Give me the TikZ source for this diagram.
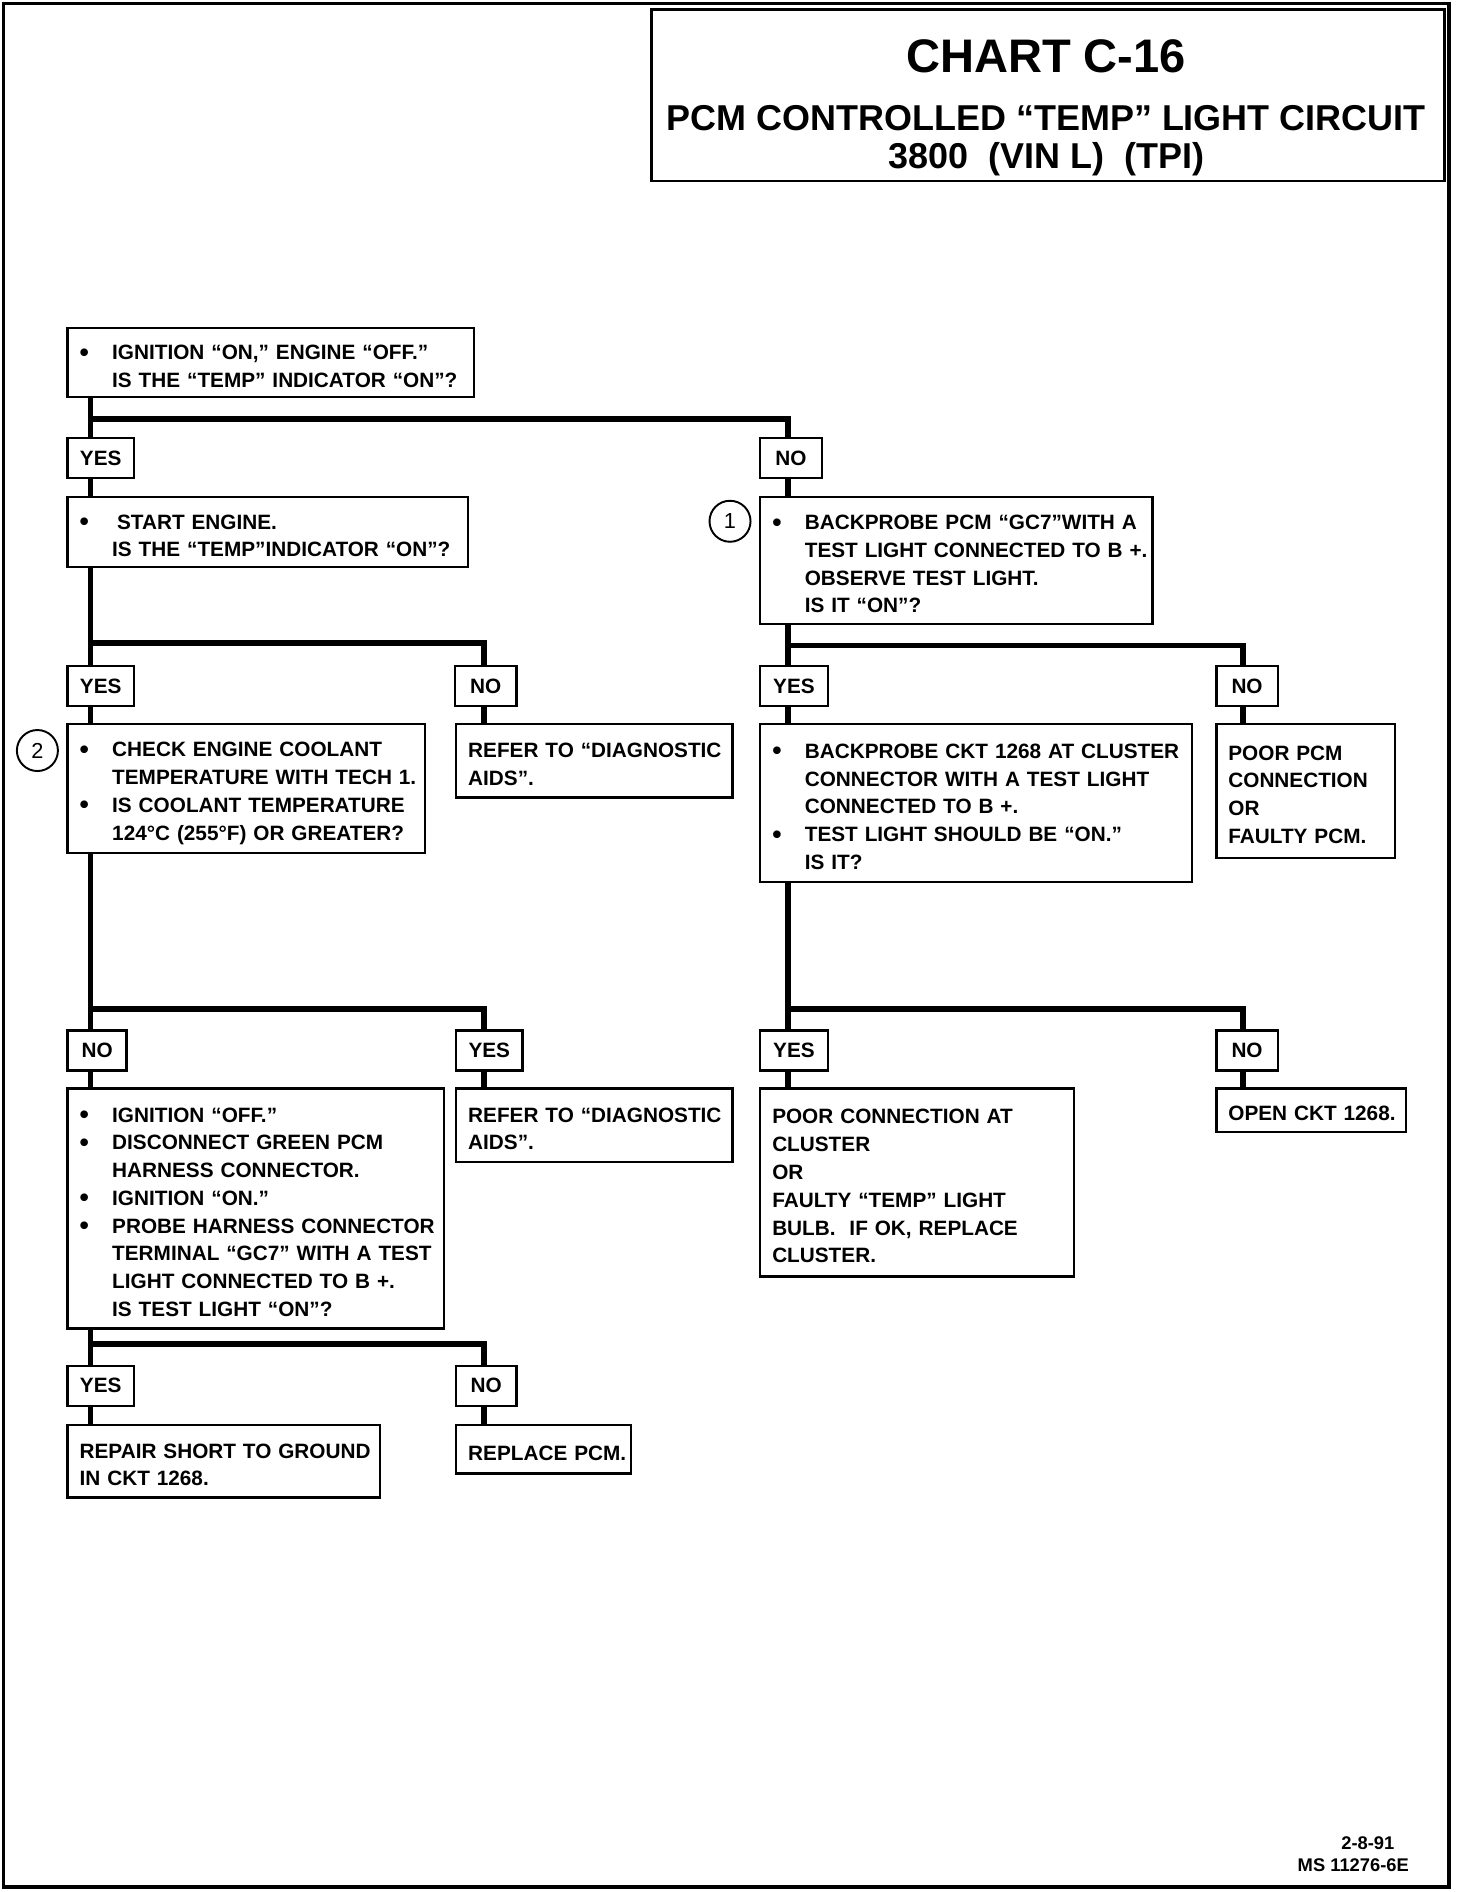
\documentclass[tikz,border=0pt]{standalone}
\usepackage{fontspec}
\setmainfont{Liberation Sans}
\newcommand\bulmark{\raisebox{-0.6pt}{\fontsize{11}{11}\selectfont\textbullet}}
\newcommand\bl[1]{\mbox{\makebox[13.5pt][l]{\bulmark}#1}}
\newcommand\il[1]{\mbox{\hspace*{13.5pt}#1}}
\newcommand\pl[1]{\mbox{#1}}
\begin{document}
\begin{tikzpicture}[x=0.5pt,y=-0.5pt,
  txt/.style={font=\bfseries\fontsize{8.6}{11.5}\selectfont},
  box/.style={txt,draw,line width=1pt,inner xsep=5pt,inner ysep=0pt,anchor=north west,align=left,
    execute at begin node={\rule{0pt}{10pt}},execute at end node={\rule[-1pt]{0pt}{1pt}}},
  lab/.style={txt,draw,line width=1pt,inner sep=0pt,minimum height=16.5pt,anchor=north west},
  conn/.style={line width=2.4pt},
  circ/.style={circle,draw,line width=0.8pt,minimum size=17pt,inner sep=0pt,font=\fontsize{9}{9}\selectfont}]
\useasboundingbox (0,0) rectangle (1207,1568);
% frame and title
\draw[line width=1.5pt] (3,3) rectangle (1201,1564);
\node[draw,line width=1pt,minimum width=328.5pt,minimum height=71pt,anchor=north west,inner sep=0pt] (title) at (539,7) {};
\node[anchor=base,font=\bfseries\fontsize{19.5}{20}\selectfont,inner sep=0pt] (t1) at (867,60) {CHART C-16};
\node[anchor=base,font=\bfseries\fontsize{14.9}{16}\selectfont,inner sep=0pt] (t2) at (867,108) {PCM CONTROLLED “TEMP” LIGHT CIRCUIT};
\node[anchor=base,font=\bfseries\fontsize{14.9}{16}\selectfont,inner sep=0pt] (t3) at (867,140) {3800\ \ (VIN L)\ \ (TPI)};
% column x positions
\coordinate (xA) at (75,0);
\coordinate (xB) at (401,0);
\coordinate (xC) at (653,0);
\coordinate (xD) at (1030,0);
% boxes
\node[box,minimum width=168.5pt,minimum height=28.5pt,text width=158.5pt] (b1) at (55,271)
  {\bl{IGNITION “ON,” ENGINE “OFF.”}\\\il{IS THE “TEMP” INDICATOR “ON”?}};
\node[box,minimum width=166pt,minimum height=29pt,text width=156pt] (b2) at (55,411)
  {\bl{\hspace*{2pt}START ENGINE.}\\\il{IS THE “TEMP”INDICATOR “ON”?}};
\node[box,minimum width=148pt,minimum height=53.5pt,text width=138pt] (b3) at (55,599)
  {\bl{CHECK ENGINE COOLANT}\\\il{TEMPERATURE WITH TECH 1.}\\\bl{IS COOLANT TEMPERATURE}\\\il{124°C (255°F) OR GREATER?}};
\node[box,minimum width=114.5pt,minimum height=30.5pt,text width=104.5pt] (b4) at (377,599)
  {\pl{REFER TO “DIAGNOSTIC}\\\pl{AIDS”.}};
\node[box,minimum width=156pt,minimum height=99.5pt,text width=146pt] (b5) at (55,901)
  {\bl{IGNITION “OFF.”}\\\bl{DISCONNECT GREEN PCM}\\\il{HARNESS CONNECTOR.}\\\bl{IGNITION “ON.”}\\\bl{PROBE HARNESS CONNECTOR}\\\il{TERMINAL “GC7” WITH A TEST}\\\il{LIGHT CONNECTED TO B +.}\\\il{IS TEST LIGHT “ON”?}};
\node[box,minimum width=114.5pt,minimum height=30.5pt,text width=104.5pt] (b6) at (377,901)
  {\pl{REFER TO “DIAGNOSTIC}\\\pl{AIDS”.}};
\node[box,minimum width=129.5pt,minimum height=30pt,text width=119.5pt] (b7) at (55,1180)
  {\pl{REPAIR SHORT TO GROUND}\\\pl{IN CKT 1268.}};
\node[box,minimum width=72.5pt,minimum height=20pt,text width=62.5pt] (b8) at (377,1180)
  {\pl{REPLACE PCM.}};
\node[box,minimum width=162.5pt,minimum height=52.5pt,text width=152.5pt] (b9) at (629,411)
  {\bl{BACKPROBE PCM “GC7”WITH A}\\\il{TEST LIGHT CONNECTED TO B +.}\\\il{OBSERVE TEST LIGHT.}\\\il{IS IT “ON”?}};
\node[box,minimum width=179pt,minimum height=65.5pt,text width=169pt] (b10) at (629,599)
  {\bl{BACKPROBE CKT 1268 AT CLUSTER}\\\il{CONNECTOR WITH A TEST LIGHT}\\\il{CONNECTED TO B +.}\\\bl{TEST LIGHT SHOULD BE “ON.”}\\\il{IS IT?}};
\node[box,minimum width=74pt,minimum height=55.5pt,text width=64pt] (b11) at (1007,599)
  {\pl{POOR PCM}\\\pl{CONNECTION}\\\pl{OR}\\\pl{FAULTY PCM.}};
\node[box,minimum width=130pt,minimum height=78pt,text width=120pt] (b12) at (629,901)
  {\pl{POOR CONNECTION AT}\\\pl{CLUSTER}\\\pl{OR}\\\pl{FAULTY “TEMP” LIGHT}\\\pl{BULB.\ \ IF OK, REPLACE}\\\pl{CLUSTER.}};
\node[box,minimum width=78.5pt,minimum height=18pt,text width=68.5pt] (b13) at (1007,901)
  {\pl{OPEN CKT 1268.}};
% yes/no labels
\node[lab,minimum width=27.5pt] (yes1) at (55,362) {YES};
\node[lab,minimum width=25.5pt] (no1) at (629,362) {NO};
\node[lab,minimum width=27.5pt] (yes2) at (55,551) {YES};
\node[lab,minimum width=25.5pt] (no2) at (376,551) {NO};
\node[lab,minimum width=28pt] (yes3) at (629,551) {YES};
\node[lab,minimum width=25.5pt] (no3) at (1007,551) {NO};
\node[lab,minimum width=24.5pt] (no4) at (55,853) {NO};
\node[lab,minimum width=27.5pt] (yes4) at (377,853) {YES};
\node[lab,minimum width=28pt] (yes5) at (629,853) {YES};
\node[lab,minimum width=25.5pt] (no5) at (1007,853) {NO};
\node[lab,minimum width=27.5pt] (yes6) at (55,1131) {YES};
\node[lab,minimum width=25pt] (no6) at (377,1131) {NO};
% circled numbers
\node[circ] (c1) at (605,432) {1};
\node[circ] (c2) at (31,622) {2};
% junctions
\coordinate (j1) at (75,347);
\coordinate (j2) at (75,533);
\coordinate (j3) at (653,535);
\coordinate (j4) at (75,836);
\coordinate (j5) at (653,836);
\coordinate (j6) at (75,1114);
% connectors
\draw[conn] (b1.south -| xA) -- (yes1.north -| xA);
\draw[conn] (j1) -| (no1.north -| xC);
\draw[conn] (yes1.south -| xA) -- (b2.north -| xA);
\draw[conn] (no1.south -| xC) -- (b9.north -| xC);
\draw[conn] (b2.south -| xA) -- (yes2.north -| xA);
\draw[conn] (j2) -| (no2.north -| xB);
\draw[conn] (yes2.south -| xA) -- (b3.north -| xA);
\draw[conn] (no2.south -| xB) -- (b4.north -| xB);
\draw[conn] (b3.south -| xA) -- (no4.north -| xA);
\draw[conn] (j4) -| (yes4.north -| xB);
\draw[conn] (no4.south -| xA) -- (b5.north -| xA);
\draw[conn] (yes4.south -| xB) -- (b6.north -| xB);
\draw[conn] (b5.south -| xA) -- (yes6.north -| xA);
\draw[conn] (j6) -| (no6.north -| xB);
\draw[conn] (yes6.south -| xA) -- (b7.north -| xA);
\draw[conn] (no6.south -| xB) -- (b8.north -| xB);
\draw[conn] (b9.south -| xC) -- (yes3.north -| xC);
\draw[conn] (j3) -| (no3.north -| xD);
\draw[conn] (yes3.south -| xC) -- (b10.north -| xC);
\draw[conn] (no3.south -| xD) -- (b11.north -| xD);
\draw[conn] (b10.south -| xC) -- (yes5.north -| xC);
\draw[conn] (j5) -| (no5.north -| xD);
\draw[conn] (yes5.south -| xC) -- (b12.north -| xC);
\draw[conn] (no5.south -| xD) -- (b13.north -| xD);
% footer
\node[anchor=base east,inner sep=0pt,font=\bfseries\fontsize{7.6}{8}\selectfont] (d1) at (1156,1533) {2-8-91};
\node[anchor=base east,inner sep=0pt,font=\bfseries\fontsize{7.6}{8}\selectfont] (d2) at (1168,1551) {MS 11276-6E};
\end{tikzpicture}
\end{document}
